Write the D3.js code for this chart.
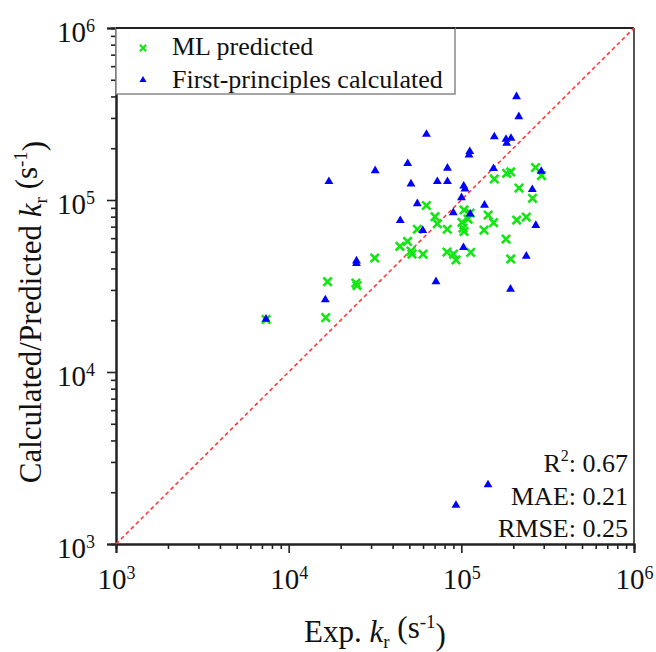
<!DOCTYPE html>
<html lang="en">
<head>
  <meta charset="UTF-8">
  <style>
body {
    margin: 0;
    background: #fff;
    font-family: "Liberation Serif", "Times New Roman", serif;
}
.tick text {
    font-family: "Liberation Serif", "Times New Roman", serif;
}
  </style>
  <title>kr parity</title>
</head>
<body>
<div id="wrapper"></div>
<script src="https://cdnjs.cloudflare.com/ajax/libs/d3/7.8.5/d3.min.js"></script>
<script>
// DATA
// ML predicted: experimental kr vs predicted kr
const mlExp = [7.4e3, 1.64e4, 1.68e4, 2.45e4, 2.49e4, 3.15e4, 4.41e4, 4.88e4, 5.11e4, 5.18e4,
  6.0e4, 5.56e4, 6.27e4, 7.04e4, 7.26e4, 8.29e4, 8.26e4, 9.01e4, 9.31e4, 1.036e5,
  1.123e5, 1.093e5, 1.009e5, 1.022e5, 1.036e5, 1.133e5, 1.43e5, 1.536e5, 1.353e5, 1.552e5,
  1.831e5, 1.931e5, 2.158e5, 2.092e5, 2.378e5, 1.814e5, 1.931e5, 2.583e5, 2.689e5, 2.913e5]
const mlPred = [2.02e4, 2.07e4, 3.35e4, 3.29e4, 3.18e4, 4.6e4, 5.38e4, 5.74e4, 5.05e4, 4.85e4,
  4.84e4, 6.76e4, 9.29e4, 8.0e4, 7.28e4, 6.76e4, 4.98e4, 4.85e4, 4.48e4, 8.75e4,
  8.4e4, 7.75e4, 7.4e4, 6.87e4, 6.56e4, 4.96e4, 8.18e4, 7.38e4, 6.69e4, 1.325e5,
  1.43e5, 1.455e5, 1.174e5, 7.65e4, 7.96e4, 5.93e4, 4.54e4, 1.023e5, 1.545e5, 1.388e5]

// First-principles calculated
const fpExp = [7.39e3, 1.63e4, 2.47e4, 2.47e4, 1.71e4, 3.17e4, 4.89e4, 5.11e4, 5.56e4, 4.43e4,
  5.98e4, 6.28e4, 7.26e4, 8.31e4, 8.31e4, 8.98e4, 1.032e5, 1.05e5, 1.002e5, 1.125e5,
  1.119e5, 1.108e5, 1.362e5, 1.536e5, 1.552e5, 1.814e5, 1.939e5, 1.831e5, 2.087e5, 2.152e5,
  2.901e5, 2.576e5, 2.70e5, 1.029e5, 2.378e5, 7.13e4, 1.926e5, 1.427e5, 9.31e4]
const fpCalc = [2.03e4, 2.63e4, 4.42e4, 4.27e4, 1.28e5, 1.48e5, 1.63e5, 1.24e5, 9.52e4, 7.6e4,
  6.65e4, 2.41e5, 1.28e5, 1.28e5, 1.53e5, 8.44e4, 1.206e5, 1.159e5, 1.031e5, 8.31e4,
  1.914e5, 1.827e5, 9.33e4, 1.524e5, 2.33e5, 2.254e5, 2.284e5, 2.136e5, 3.99e5, 3.05e5,
  1.469e5, 1.151e5, 7.11e4, 5.29e4, 4.71e4, 3.35e4, 3.03e4, 2.21e3, 1.68e3]

const majorTicks = [1e3, 1e4, 1e5, 1e6]
const tickExponents = ["3", "4", "5", "6"]
const legendLabels = ["ML predicted", "First-principles calculated"]
const statNames = ["R", "MAE", "RMSE"]
const statValues = ["0.67", "0.21", "0.25"]

const serif = '"Liberation Serif", "Times New Roman", serif'

let dimensions = {
  width: 656,
  height: 652,
  margin: { top: 28, right: 22, bottom: 108, left: 116 },
}
dimensions.boundedWidth = dimensions.width - dimensions.margin.left - dimensions.margin.right
dimensions.boundedHeight = dimensions.height - dimensions.margin.top - dimensions.margin.bottom

const xScale = d3.scaleLog().domain([1e3, 1e6]).range([0, dimensions.boundedWidth])
const yScale = d3.scaleLog().domain([1e3, 1e6]).range([dimensions.boundedHeight, 0])

// minor ticks 2..9 in each decade
const minorTicks = []
for (let e = 3; e < 6; e++) {
  for (let m = 2; m <= 9; m++) minorTicks.push(m * Math.pow(10, e))
}

const wrapper = d3.select("#wrapper")
  .append("svg")
  .attr("width", dimensions.width)
  .attr("height", dimensions.height)

const bounds = wrapper.append("g")
  .attr("transform", `translate(${dimensions.margin.left},${dimensions.margin.top})`)

// frame: top and right
bounds.append("line")
  .attr("x1", 0).attr("x2", dimensions.boundedWidth)
  .attr("y1", 0).attr("y2", 0)
  .attr("stroke", "#222").attr("stroke-width", 2)
bounds.append("line")
  .attr("x1", dimensions.boundedWidth).attr("x2", dimensions.boundedWidth)
  .attr("y1", 0).attr("y2", dimensions.boundedHeight)
  .attr("stroke", "#555").attr("stroke-width", 2)

// axes
const xMinor = bounds.append("g")
  .attr("transform", `translate(0,${dimensions.boundedHeight})`)
  .call(d3.axisBottom(xScale).tickValues(minorTicks).tickSize(5).tickFormat(""))
const xMajor = bounds.append("g")
  .attr("transform", `translate(0,${dimensions.boundedHeight})`)
  .call(d3.axisBottom(xScale).tickValues(majorTicks).tickSize(9).tickPadding(14))
const yMinor = bounds.append("g")
  .call(d3.axisLeft(yScale).tickValues(minorTicks).tickSize(5).tickFormat(""))
const yMajor = bounds.append("g")
  .call(d3.axisLeft(yScale).tickValues(majorTicks).tickSize(9).tickPadding(12))

;[xMinor, xMajor, yMinor, yMajor].forEach(g => {
  g.select(".domain").attr("stroke", "#222").attr("stroke-width", 2)
  g.selectAll(".tick line").attr("stroke", "#222").attr("stroke-width", 1.6)
})

function powerLabel(sel) {
  sel.each(function (d, i) {
    const t = d3.select(this)
    t.text("")
      .attr("font-family", serif)
      .attr("font-size", 29)
      .attr("fill", "#111")
    t.append("tspan").text("10")
    t.append("tspan").text(tickExponents[i])
      .attr("font-size", 18)
      .attr("dy", "-0.55em")
  })
}
xMajor.selectAll(".tick text").call(powerLabel).attr("dy", "0.75em")
yMajor.selectAll(".tick text").call(powerLabel).attr("dy", "0.45em")

// diagonal y = x
bounds.append("line")
  .attr("x1", xScale(1e3)).attr("y1", yScale(1e3))
  .attr("x2", xScale(1e6)).attr("y2", yScale(1e6))
  .attr("stroke", "#ff3b3b")
  .attr("stroke-width", 1.6)
  .attr("stroke-dasharray", "4,3")

const crossPath = r => `M${-r},${-r}L${r},${r}M${-r},${r}L${r},${-r}`
const green = "#14e614"
const blue = "#0000ff"

bounds.append("g").selectAll("path")
  .data(d3.range(mlExp.length))
  .join("path")
    .attr("d", crossPath(4.2))
    .attr("transform", i => `translate(${xScale(mlExp[i])},${yScale(mlPred[i])})`)
    .attr("fill", "none")
    .attr("stroke", green)
    .attr("stroke-width", 2.6)

const triangle = d3.symbol(d3.symbolTriangle, 34)
bounds.append("g").selectAll("path")
  .data(d3.range(fpExp.length))
  .join("path")
    .attr("d", triangle)
    .attr("transform", i => `translate(${xScale(fpExp[i])},${yScale(fpCalc[i])})`)
    .attr("fill", blue)

// legend
const legend = bounds.append("g")
legend.append("rect")
  .attr("x", 0).attr("y", 0)
  .attr("width", 339).attr("height", 66)
  .attr("fill", "white")
  .attr("stroke", "#888")
  .attr("stroke-width", 1.5)
legend.append("line")
  .attr("x1", 0).attr("x2", 339).attr("y1", 0).attr("y2", 0)
  .attr("stroke", "#222").attr("stroke-width", 2)
legend.append("path")
  .attr("d", crossPath(3.2))
  .attr("transform", "translate(27,20)")
  .attr("fill", "none").attr("stroke", green).attr("stroke-width", 2.2)
legend.append("path")
  .attr("d", d3.symbol(d3.symbolTriangle, 22))
  .attr("transform", "translate(27,52)")
  .attr("fill", blue)
legend.selectAll("text")
  .data(legendLabels)
  .join("text")
    .attr("x", 56)
    .attr("y", (d, i) => 27 + i * 33)
    .attr("font-family", serif)
    .attr("font-size", 26)
    .attr("fill", "#111")
    .text(d => d)

// statistics
const stats = bounds.append("g")
  .attr("font-family", serif)
  .attr("font-size", 26)
  .attr("fill", "#111")
  .attr("text-anchor", "end")
statNames.forEach((name, i) => {
  const t = stats.append("text")
    .attr("x", dimensions.boundedWidth - 6)
    .attr("y", 444 + i * 32.5)
  t.append("tspan").text(name)
  if (i === 0) {
    t.append("tspan").text("2").attr("font-size", 16).attr("dy", "-0.7em")
    t.append("tspan").text(": " + statValues[i]).attr("dy", "0.43em")
  } else {
    t.append("tspan").text(": " + statValues[i])
  }
})

// axis titles
const xTitle = wrapper.append("text")
  .attr("x", dimensions.margin.left + dimensions.boundedWidth / 2)
  .attr("y", 642)
  .attr("text-anchor", "middle")
  .attr("font-family", serif)
  .attr("font-size", 31)
  .attr("fill", "#111")
xTitle.append("tspan").text("Exp. ")
xTitle.append("tspan").text("k").attr("font-style", "italic")
xTitle.append("tspan").text("r").attr("font-size", 19).attr("dy", "0.3em")
xTitle.append("tspan").text(" (s").attr("dy", "-0.3em")
xTitle.append("tspan").text("-1").attr("font-size", 19).attr("dy", "-0.55em")
xTitle.append("tspan").text(")").attr("dy", "0.55em")

const yTitle = wrapper.append("text")
  .attr("transform", "translate(41,312) rotate(-90)")
  .attr("text-anchor", "middle")
  .attr("font-family", serif)
  .attr("font-size", 31)
  .attr("fill", "#111")
yTitle.append("tspan").text("Calculated/Predicted ")
yTitle.append("tspan").text("k").attr("font-style", "italic")
yTitle.append("tspan").text("r").attr("font-size", 19).attr("dy", "0.3em")
yTitle.append("tspan").text(" (s").attr("dy", "-0.3em")
yTitle.append("tspan").text("-1").attr("font-size", 19).attr("dy", "-0.55em")
yTitle.append("tspan").text(")").attr("dy", "0.55em")
</script>
</body>
</html>
